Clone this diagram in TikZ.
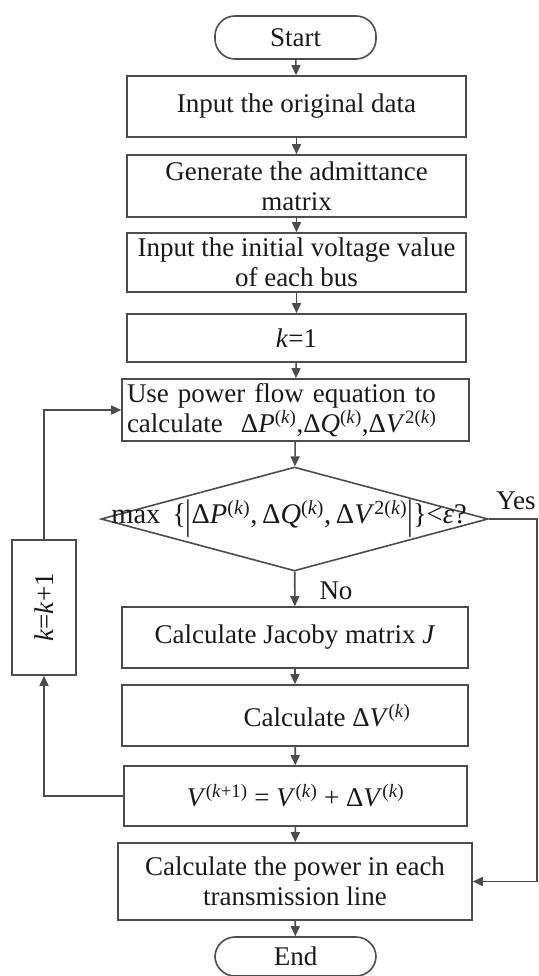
\documentclass[tikz,border=0pt]{standalone}
\usepackage{fontspec}
\setmainfont{Liberation Serif}
\usetikzlibrary{arrows.meta,shapes.geometric}
\newcommand\sk{\textsuperscript{(\textit{k})}}
\newcommand\tallbar{\raisebox{-5pt}{\scalebox{1}[1.45]{|}}}
\begin{document}
\begin{tikzpicture}[x=1pt,y=-1pt,
 every node/.style={font=\fontsize{27}{30}\selectfont, text=black!90},
 box/.style={draw=black!70, line width=1.6pt, rectangle, inner sep=0pt, align=center},
 term/.style={box, rounded corners=20pt},
 conn/.style={draw=black!70, line width=1.6pt, -{Triangle[length=10pt,width=9pt]}},
 plain/.style={draw=black!70, line width=1.6pt}]
\useasboundingbox (0,0) rectangle (538,976);
\node[term, minimum width=161pt, minimum height=43pt] (start) at (295.5,37.5) {Start};
\node[box, minimum width=339pt, minimum height=61pt] (n1) at (296.5,106.5) {Input the original data};
\node[box, minimum width=339pt, minimum height=62pt] (n2) at (296.5,186) {Generate the admittance\\matrix};
\node[box, minimum width=339pt, minimum height=59pt] (n3) at (296.5,262.5) {Input the initial voltage value\\of each bus};
\node[box, minimum width=339pt, minimum height=48pt] (n4) at (296.5,338) {\textit{k}=1};
\node[box, minimum width=347pt, minimum height=62pt, text width=337pt, align=left] (n5) at (295.5,410) {Use power flow equation to\\calculate \ Δ\textit{P}\sk,Δ\textit{Q}\sk,Δ\textit{V}\textsuperscript{2(\textit{k})}};
\node[draw=black!70, line width=1.6pt, diamond, minimum width=387pt, minimum height=104pt, inner sep=0pt] (d) at (294.5,519) {};
\node[inner sep=0pt, font=\fontsize{28.5}{30}\selectfont] (dt) at (289,519) {max \,\{\tallbar Δ\textit{P}\sk,\,Δ\textit{Q}\sk,\,Δ\textit{V}\textsuperscript{2(\textit{k})}\tallbar\}<\textit{ε}?};
\node (yes) at (516,501) {Yes};
\node (no) at (336,591) {No};
\node[box, minimum width=346pt, minimum height=61pt] (n6) at (295,637.5) {Calculate Jacoby matrix \textit{J}};
\node[box, minimum width=346pt, minimum height=61pt] (n7) at (295,715.5) {\hspace*{64pt}Calculate Δ\textit{V}\sk};
\node[box, minimum width=343pt, minimum height=60pt] (n8) at (295.5,796) {\textit{V}\textsuperscript{(\textit{k}+1)} = \textit{V}\sk\ + Δ\textit{V}\sk};
\node[box, minimum width=354pt, minimum height=77pt] (n9) at (295,881.5) {Calculate the power in each\\transmission line};
\node[term, minimum width=161pt, minimum height=39pt] (end) at (295.5,956.5) {End};
\node[box, minimum width=64pt, minimum height=135pt] (kk) at (44,607.5) {\rotatebox{90}{\textit{k}=\textit{k}+1}};
\coordinate (yc) at (537,519);
\draw[conn] (start) -- (n1);
\draw[conn] (n1) -- (n2);
\draw[conn] (n2) -- (n3);
\draw[conn] (n3) -- (n4);
\draw[conn] (n4) -- (n5);
\draw[conn] (n5) -- (d);
\draw[conn] (d) -- (n6);
\draw[conn] (n6) -- (n7);
\draw[conn] (n7) -- (n8);
\draw[conn] (n8) -- (n9);
\draw[conn] (n9) -- (end);
\draw[conn] (n8.west) -| (kk.south);
\draw[conn] (kk.north) |- (n5.west);
\draw[conn] (d.east) -- (yc) |- (n9.east);
\end{tikzpicture}
\end{document}
